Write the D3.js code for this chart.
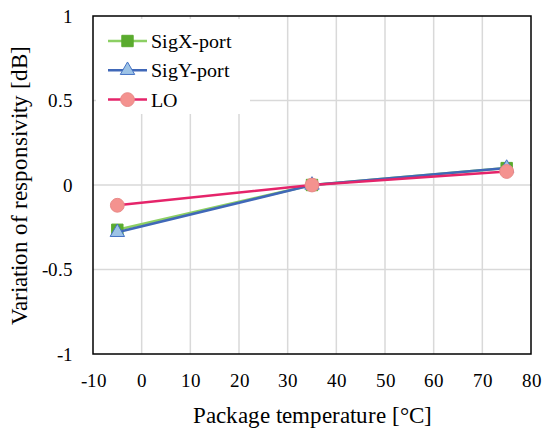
<!DOCTYPE html>
<html><head><meta charset="utf-8">
<script src="https://cdn.jsdelivr.net/npm/d3@7"></script>
<style>
@font-face{font-family:"ChartSerif";src:local("Liberation Serif"),local("LiberationSerif"),local("LiberationSerif-Regular");}
body{margin:0;background:#fff}
</style>
</head><body>
<script>
const temps = [-5, 35, 75];
const sigX = [-0.265, 0.0, 0.10];
const sigY = [-0.28, 0.0, 0.10];
const lo = [-0.12, 0.0, 0.08];
const seriesNames = ["SigX-port", "SigY-port", "LO"];
const xTicks = [-10, 0, 10, 20, 30, 40, 50, 60, 70, 80];
const yTicks = [-1, -0.5, 0, 0.5, 1];

const W = 542, H = 434;
const m = {l: 93, r: 11, t: 16, b: 80};
const svg = d3.select("body").append("svg").attr("width", W).attr("height", H)
  .attr("font-family", "ChartSerif");
const x = d3.scaleLinear().domain([-10, 80]).range([m.l, W - m.r]);
const y = d3.scaleLinear().domain([-1, 1]).range([H - m.b, m.t]);

function txt(sel, size) {
  return sel.style("font-family", "ChartSerif, 'Liberation Serif'").style("font-size", size + "px").style("fill", "#000");
}

// grid
svg.append("g").selectAll("line").data(xTicks.slice(1, -1)).join("line")
  .attr("x1", d => x(d)).attr("x2", d => x(d)).attr("y1", y(1)).attr("y2", y(-1))
  .attr("stroke", "#d9d9d9").attr("stroke-width", 1.5);
svg.append("g").selectAll("line").data(yTicks.slice(1, -1)).join("line")
  .attr("x1", x(-10)).attr("x2", x(80)).attr("y1", d => y(d)).attr("y2", d => y(d))
  .attr("stroke", "#d9d9d9").attr("stroke-width", 1.5);

// legend background (covers grid)
const lg = svg.append("g");
lg.append("rect").attr("x", 96).attr("y", 19).attr("width", 154).attr("height", 95).attr("fill", "#fff");

// frame
svg.append("rect").attr("x", x(-10)).attr("y", y(1)).attr("width", x(80) - x(-10)).attr("height", y(-1) - y(1))
  .attr("fill", "none").attr("stroke", "#000").attr("stroke-width", 1.5);

// x tick labels
const xAxis = d3.axisBottom(x).tickValues(xTicks).tickSize(0).tickPadding(0).tickFormat(d => String(d));
const gx = svg.append("g").attr("transform", `translate(0,${y(-1)})`).call(xAxis);
gx.select(".domain").remove();
gx.attr("font-family", "ChartSerif").attr("font-size", 19);
txt(gx.selectAll("text").attr("y", 33).attr("dy", "0"), 19);
// y tick labels
const yAxis = d3.axisLeft(y).tickValues(yTicks).tickSize(0).tickPadding(0).tickFormat(d => String(d));
const gy = svg.append("g").attr("transform", `translate(${x(-10)},0)`).call(yAxis);
gy.select(".domain").remove();
gy.attr("font-family", "ChartSerif").attr("font-size", 19);
txt(gy.selectAll("text").attr("x", -20).attr("dy", "0.32em"), 19);

// axis titles
txt(svg.append("text").attr("x", (x(-10) + x(80)) / 2).attr("y", 423).attr("text-anchor", "middle"), 23)
  .text("Package temperature [°C]");
txt(svg.append("text").attr("transform", `translate(27,${(y(1) + y(-1)) / 2}) rotate(-90)`).attr("text-anchor", "middle"), 23)
  .text("Variation of responsivity [dB]");

const styles = [
  {data: sigX, line: "#8ccf63", fill: "#5aab2e", stroke: "#5aab2e", shape: d3.symbolSquare, size: 130},
  {data: sigY, line: "#4068b8", fill: "#9dc3e6", stroke: "#4472c4", shape: d3.symbolTriangle, size: 90},
  {data: lo, line: "#e5246a", fill: "#f4928f", stroke: "#e98a88", shape: d3.symbolCircle, size: 150}
];
const line = d3.line().x(d => x(d[0])).y(d => y(d[1]));
styles.forEach((s, i) => {
  const pts = temps.map((t, j) => [t, s.data[j]]);
  svg.append("path").attr("d", line(pts)).attr("fill", "none").attr("stroke", s.line).attr("stroke-width", 2.5);
  svg.append("g").selectAll("path").data(pts).join("path")
    .attr("transform", d => `translate(${x(d[0])},${y(d[1])})`)
    .attr("d", d3.symbol().type(s.shape).size(s.size))
    .attr("fill", s.fill).attr("stroke", s.stroke).attr("stroke-width", 1);
  // legend
  const ly = 41 + i * 29.3;
  lg.append("line").attr("x1", 108).attr("x2", 147).attr("y1", ly).attr("y2", ly).attr("stroke", s.line).attr("stroke-width", 2.5);
  lg.append("path").attr("transform", `translate(127.5,${ly})`).attr("d", d3.symbol().type(s.shape).size(s.size))
    .attr("fill", s.fill).attr("stroke", s.stroke).attr("stroke-width", 1);
  txt(lg.append("text").attr("x", 151).attr("y", ly).attr("dy", "0.35em"), 20).text(seriesNames[i]);
});
</script>
</body></html>
